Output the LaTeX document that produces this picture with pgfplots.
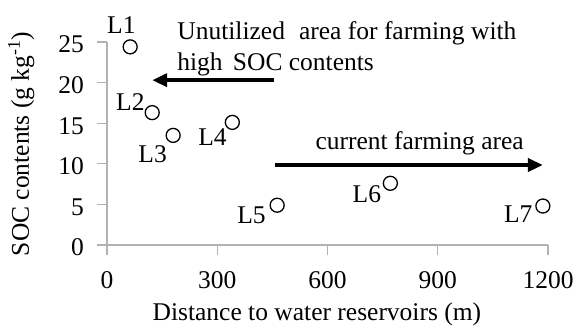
\documentclass[border=0pt]{standalone}
\usepackage{fontspec}
\setmainfont{Liberation Serif}
\usepackage{pgfplots}
\pgfplotsset{compat=1.18}
\usetikzlibrary{arrows.meta}
\begin{document}
\begin{tikzpicture}[x=1bp,y=1bp]
\path (0,0) rectangle (582,325);
\begin{axis}[
  at={(107bp,80bp)}, anchor=south west,
  scale only axis, width=441bp, height=203bp,
  xmin=0, xmax=1200, ymin=0, ymax=25,
  xtick={0,300,600,900,1200}, ytick={0,5,10,15,20,25},
  axis x line=bottom, axis y line=left,
  axis line style={-, black!30, line width=1.2bp},
  tick style={black!30, line width=1.2bp},
  tick align=outside, major tick length=10bp,
  font=\fontsize{25.5bp}{30bp}\selectfont,
  /pgf/number format/assume math mode=true,
  ticklabel style={font=\fontsize{25.5bp}{30bp}\selectfont, inner sep=0pt, text depth=0pt},
  xticklabel style={anchor=base, yshift=-33bp},
  yticklabel style={anchor=east, xshift=-13bp, yshift=-2.5bp},
  /pgf/number format/.cd, 1000 sep={}, /pgfplots/.cd,
  xlabel={Distance to water reservoirs (m)},
  xlabel style={at={(axis description cs:0.476,-0.372)}, anchor=base, inner sep=0pt},
  ylabel={SOC contents (g kg\textsuperscript{-1})},
  ylabel style={at={(axis description cs:-0.177,0.4975)}, anchor=base, rotate=0, inner sep=0pt},
  clip=false,
]
\addplot[only marks, mark=o, mark size=7bp, black, line width=1.3bp]
  coordinates {(63,24.4) (123,16.3) (180,13.5) (341,15.1) (463,4.9) (771,7.6) (1186,4.8)};
\node[anchor=base west, inner sep=0pt] at (axis cs:0,26.1) {L1};
\node[anchor=base west, inner sep=0pt] at (axis cs:24.5,16.6) {L2};
\node[anchor=base west, inner sep=0pt] at (axis cs:85,10.1) {L3};
\node[anchor=base west, inner sep=0pt] at (axis cs:248,12.3) {L4};
\node[anchor=base west, inner sep=0pt] at (axis cs:354,2.7) {L5};
\node[anchor=base west, inner sep=0pt] at (axis cs:668,5.2) {L6};
\node[anchor=base west, inner sep=0pt] at (axis cs:1080,2.8) {L7};
\node[anchor=base west, inner sep=0pt] at (axis cs:191,25.25) {Unutilized\hspace{0.3em} area for farming with};
\node[anchor=base west, inner sep=0pt] at (axis cs:191,21.55) {high\hspace{0.15em} SOC contents};
\node[anchor=base west, inner sep=0pt] at (axis cs:567,11.7) {current farming area};
\draw[line width=4.5bp, -{Triangle[length=15bp,width=13bp]}] (axis cs:455,20.3) -- (axis cs:123,20.3);
\draw[line width=4.5bp, -{Triangle[length=15bp,width=13bp]}] (axis cs:458,9.85) -- (axis cs:1186,9.85);
\end{axis}
\end{tikzpicture}
\end{document}
